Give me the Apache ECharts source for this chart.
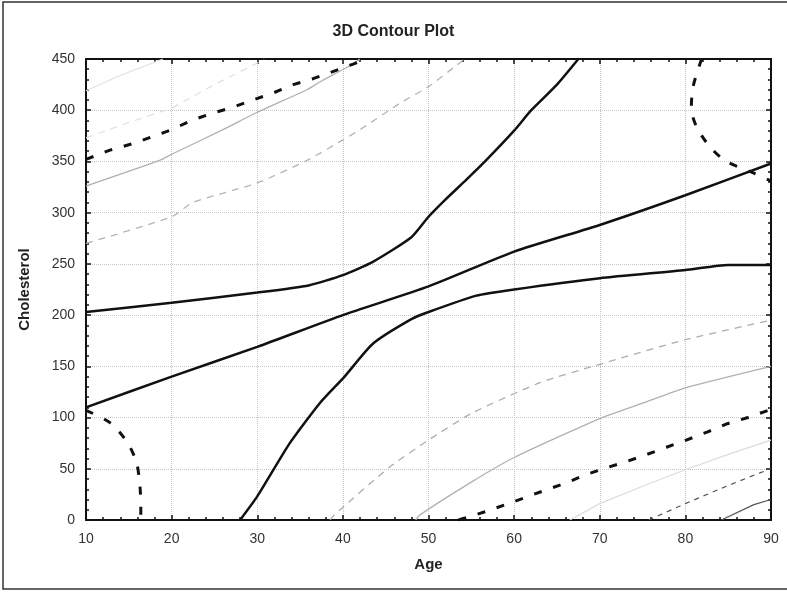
<!DOCTYPE html>
<html>
<head>
<meta charset="utf-8">
<title>3D Contour Plot</title>
<script src="https://cdn.jsdelivr.net/npm/echarts@6/dist/echarts.min.js"></script>
<style>
    html, body { margin: 0; padding: 0; background: #fff; }
    #graph { width: 787px; height: 592px; }
</style>
</head>
<body>
<div id="graph"></div>
<script>
// axis ticks
var ageTicks = [10, 20, 30, 40, 50, 60, 70, 80, 90];
var cholTicks = [0, 50, 100, 150, 200, 250, 300, 350, 400, 450];

// thick black contour lines  [age, cholesterol]
var lineUpper = [[10,203],[20,212],[30,222],[36,229],[40,239],[43.5,252],[48,276],[50,296],[52,313],[54.4,332],[56.6,350],[60,380],[62,400],[65,425],[67.5,450]];
var lineMiddle = [[10,110],[20,140],[30,169],[40,200],[50,228],[60,262],[70,288],[80,317],[90,348]];
var lineLower = [[28,0],[30,23],[33.8,75],[37.3,114],[40.2,140],[43.5,172],[48,196],[50,203],[55.6,219],[60,225],[70,236],[80,244],[85,249],[90,249]];

// thick black dashed contours
var dashTopLeft = [[10,352],[12.8,361],[15.3,367],[17.7,374],[20,381],[22.3,390],[24.7,397],[27.2,403],[29.5,410],[31.9,417],[34.2,425],[36.6,431],[38.9,438],[41.2,445],[42.8,450]];
var dashBottomRight = [[53.5,0],[56.6,8],[59,15],[61.3,22],[63.6,29],[66,36],[68.3,44],[70.8,51],[73.1,57],[75.5,64],[77.8,71],[80.1,78],[82.6,86],[84.9,94],[87.3,100],[90,108]];
var dashBottomLeft = [[10,107],[12.8,95],[14.8,76],[15.9,56],[16.3,33],[16.4,13],[16.4,0]];
var dashTopRight = [[81.9,450],[80.9,423],[80.7,402],[81.3,384],[82.9,364],[84.8,350],[87.6,340],[90,331]];

// gray contours
var grayTL1 = [[10,326],[18.6,351],[20,357],[26,381],[30,398],[35.8,420],[37.4,428],[40.5,442],[42,450]];
var grayTL2 = [[10,270],[20,296],[22.5,310],[30,329],[35.8,351],[40,371],[42,381],[46.7,407],[50,423],[53.3,444],[54.2,450]];
var lightTL1 = [[10,419],[14,434],[19,450]];
var lightTL2 = [[10,373],[15,388],[20,402],[25,425],[30,446],[30.8,450]];
var grayBR1 = [[38.5,0],[39,5],[45.5,52],[50,78],[55,104],[63,134],[69.6,151],[80,176],[90,195]];
var grayBR2 = [[48.5,0],[49,5],[55,37],[60,61],[70,99],[75,114],[80,129],[90,150]];
var lightBR = [[66.5,0],[70,16],[75,33],[80,49],[85,64],[90,78]];
var darkBR1 = [[75.7,0],[80,16],[84.8,33],[88.7,46],[90,50]];
var darkBR2 = [[84.2,0],[88,15],[90,20]];

var chart = echarts.init(document.getElementById('graph'));

function contour(data, color, width, dash, smooth) {
    return {
        type: 'line',
        data: data,
        showSymbol: false,
        smooth: smooth || false,
        clip: true,
        silent: true,
        lineStyle: { color: color, width: width, type: dash ? dash : 'solid' }
    };
}

var frameColor = '#111';
var labelStyle = { color: '#333', fontSize: 14, fontFamily: 'Liberation Sans, Arial' };

function xAxisCfg(pos, showLabel) {
    return {
        type: 'value', position: pos, min: 10, max: 90, interval: 10,
        name: pos === 'bottom' ? 'Age' : '',
        nameLocation: 'middle', nameGap: 37,
        nameTextStyle: { fontSize: 15, fontWeight: 'bold', color: '#222', fontFamily: 'Liberation Sans, Arial' },
        axisLine: { show: true, onZero: false, lineStyle: { color: frameColor, width: 2 } },
        axisTick: { show: true, inside: true, length: 5, lineStyle: { color: frameColor, width: 1.5 } },
        minorTick: { show: true, splitNumber: 5, length: 3, lineStyle: { color: frameColor, width: 1.5 } },
        axisLabel: Object.assign({ show: showLabel, margin: 12 }, labelStyle),
        splitLine: { show: pos === 'bottom', lineStyle: { color: '#c4c4c4', type: 'dotted', width: 1 } }
    };
}

function yAxisCfg(pos, showLabel) {
    return {
        type: 'value', position: pos, min: 0, max: 450, interval: 50,
        name: pos === 'left' ? 'Cholesterol' : '',
        nameLocation: 'middle', nameGap: 54, nameRotate: 90,
        nameTextStyle: { fontSize: 15, fontWeight: 'bold', color: '#222', fontFamily: 'Liberation Sans, Arial' },
        axisLine: { show: true, onZero: false, lineStyle: { color: frameColor, width: 2 } },
        axisTick: { show: true, inside: true, length: 5, lineStyle: { color: frameColor, width: 1.5 } },
        minorTick: { show: true, splitNumber: 5, length: 3, lineStyle: { color: frameColor, width: 1.5 } },
        axisLabel: Object.assign({ show: showLabel, margin: 11 }, labelStyle),
        splitLine: { show: pos === 'left', lineStyle: { color: '#c4c4c4', type: 'dotted', width: 1 } }
    };
}

var chartOption = {
    animation: false,
    backgroundColor: '#fff',
    title: {
        text: '3D Contour Plot', left: 'center', top: 19,
        textStyle: { fontSize: 16, fontWeight: 'bold', color: '#222', fontFamily: 'Liberation Sans, Arial' }
    },
    grid: { left: 86, right: 16, top: 59, bottom: 72 },
    xAxis: [xAxisCfg('bottom', true), xAxisCfg('top', false)],
    yAxis: [yAxisCfg('left', true), yAxisCfg('right', false)],
    graphic: [{
        type: 'rect', silent: true,
        shape: { x: 3, y: 2, width: 800, height: 587 },
        style: { fill: 'none', stroke: '#333', lineWidth: 1.5 }
    }],
    series: [
        contour(lightTL1, '#e4e4e4', 1.2),
        contour(lightTL2, '#dedede', 1.2, [7, 6]),
        contour(grayTL1, '#b0b0b0', 1.3, null, 0.2),
        contour(grayTL2, '#b4b4b4', 1.3, [7, 6], 0.2),
        contour(grayBR1, '#acacac', 1.3, [7, 6], 0.2),
        contour(grayBR2, '#b0b0b0', 1.3, null, 0.2),
        contour(lightBR, '#dcdcdc', 1.2),
        contour(darkBR1, '#555', 1.2, [5, 5]),
        contour(darkBR2, '#555', 1.2),
        contour(dashTopLeft, '#111', 3, [8, 12]),
        contour(dashBottomRight, '#111', 3, [8, 12]),
        contour(dashBottomLeft, '#111', 3, [8, 12], 0.3),
        contour(dashTopRight, '#111', 3, [8, 12], 0.3),
        contour(lineUpper, '#111', 2.5, null, 0.2),
        contour(lineMiddle, '#111', 2.5, null, 0.2),
        contour(lineLower, '#111', 2.5, null, 0.2)
    ]
};

chart.setOption(chartOption);
</script>
</body>
</html>
